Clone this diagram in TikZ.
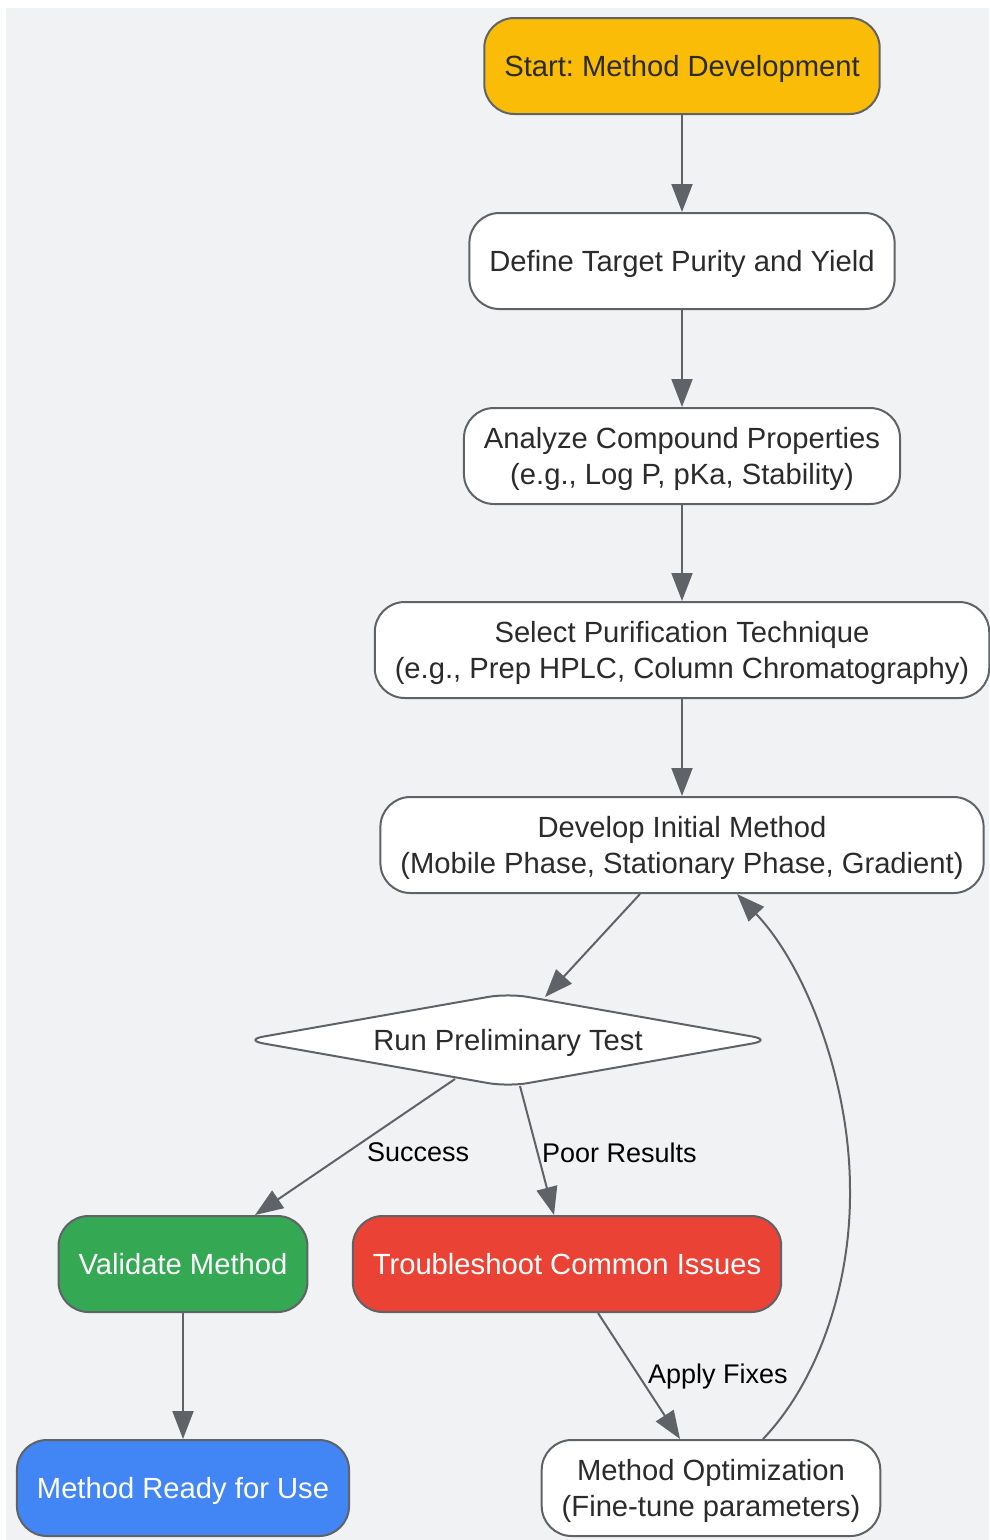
\documentclass[tikz,border=0pt]{standalone}
\usepackage{fontspec}
\setmainfont{Liberation Sans}
\usetikzlibrary{arrows.meta,shapes.geometric}
\definecolor{bgcol}{HTML}{F1F2F4}
\definecolor{linecol}{HTML}{5F6368}
\definecolor{txtcol}{HTML}{2B2B2B}
\definecolor{startcol}{HTML}{FABC07}
\definecolor{okcol}{HTML}{34A853}
\definecolor{badcol}{HTML}{EA4335}
\definecolor{donecol}{HTML}{4285F4}
\frenchspacing

\begin{document}
\begin{tikzpicture}[x=1pt, y=-1pt,
  box/.style={draw=linecol, line width=2pt, rounded corners=30pt, fill=white, text=txtcol,
    minimum height=96pt, inner xsep=20pt, text depth=0pt, align=center, font=\fontsize{29.2}{36}\selectfont},
  decide/.style={box, diamond, aspect=5.63, rounded corners=20pt, inner sep=0pt, minimum width=529pt, minimum height=94pt},
  flow/.style={draw=linecol, line width=2pt, -{Triangle[length=28pt,width=21pt]}},
  lbl/.style={text=black, font=\fontsize{27}{32}\selectfont, inner sep=0pt}]
\useasboundingbox (0,0) rectangle (989,1540);
\fill[bgcol] (6,8) rectangle (989,1540);

% main column
\node[box, fill=startcol] (start) at (682,66) {Start: Method Development};
\node[box] (goal) at (682,261) {Define Target Purity and Yield};
\node[box] (props) at (682,456) {Analyze Compound Properties\\(e.g., Log P, pKa, Stability)};
\node[box] (tech) at (682,650) {Select Purification Technique\\(e.g., Prep HPLC, Column Chromatography)};
\node[box] (init) at (682,845) {Develop Initial Method\\(Mobile Phase, Stationary Phase, Gradient)};
\node[decide] (test) at (508,1040) {Run Preliminary Test};
% outcomes
\node[box, fill=okcol, text=white] (valid) at (183,1264) {Validate Method};
\node[box, fill=badcol, text=white] (fix) at (567,1264) {Troubleshoot Common Issues};
\node[box, fill=donecol, text=white] (ready) at (183,1488) {Method Ready for Use};
\node[box] (optim) at (711,1488) {Method Optimization\\(Fine-tune parameters)};

\draw[flow] (start) -- (goal);
\draw[flow] (goal) -- (props);
\draw[flow] (props) -- (tech);
\draw[flow] (tech) -- (init);
\draw[flow] ([xshift=-42pt]init.south) -- ([xshift=37pt,yshift=-5pt]test.north);
\draw[flow] ([xshift=-53pt,yshift=9pt]test.south) -- node[lbl, anchor=west, xshift=11pt, yshift=-5pt] {Success} ([xshift=72pt]valid.north);
\draw[flow] ([xshift=12pt,yshift=2pt]test.south) -- node[lbl, anchor=west, xshift=4pt, yshift=-2pt] {Poor Results} ([xshift=-13pt]fix.north);
\draw[flow] (valid) -- (ready);
\draw[flow] ([xshift=31pt]fix.south) -- node[lbl, anchor=west, xshift=8pt, yshift=-1pt] {Apply Fixes} ([xshift=-31pt]optim.north);
% loop back
\draw[flow] ([xshift=52pt]optim.north) .. controls (815,1385) and (851,1290) .. (850,1190)
  .. controls (850,1080) and (805,965) .. ([xshift=55pt]init.south);
\end{tikzpicture}
\end{document}
